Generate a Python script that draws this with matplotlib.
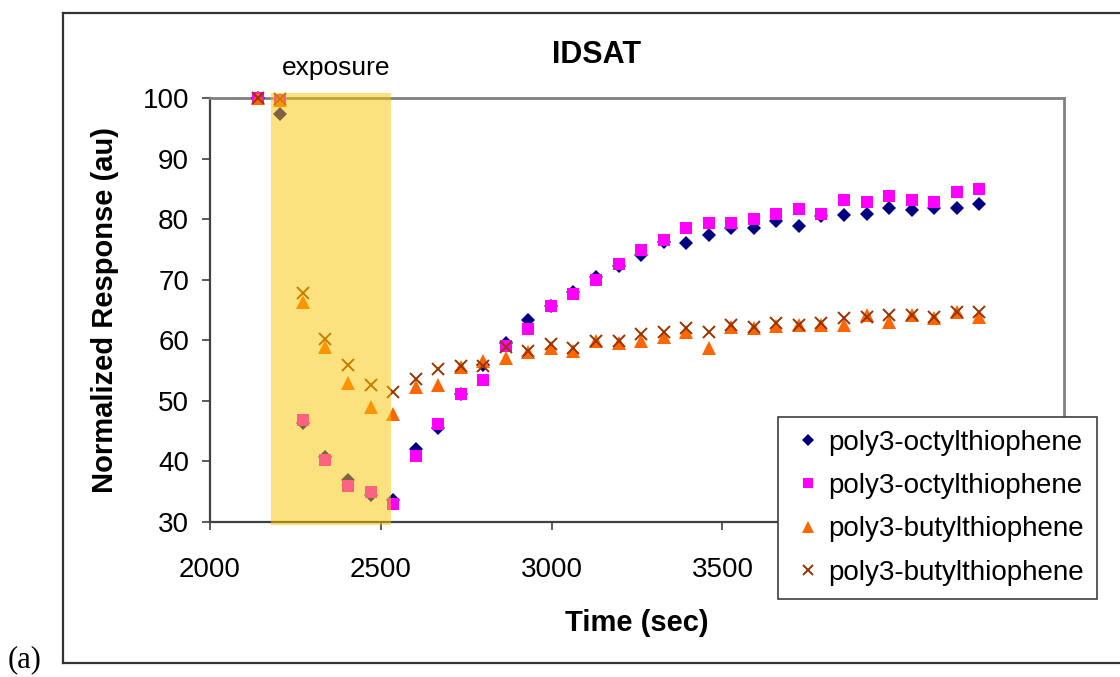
import matplotlib
matplotlib.use("Agg")
import matplotlib.pyplot as plt
from matplotlib.patches import Rectangle
from matplotlib.lines import Line2D

# ---- data ----
time_sec = [2140, 2206, 2272, 2338, 2404, 2470, 2536, 2602, 2668, 2734, 2800,
            2866, 2932, 2998, 3064, 3130, 3196, 3262, 3328, 3394, 3460, 3526,
            3592, 3658, 3724, 3790, 3856, 3922, 3988, 4054, 4120, 4186, 4252]

octyl_a = [100.0, 97.3, 46.3, 40.8, 37.0, 34.5, 33.7, 42.0, 45.5, 51.1, 55.9,
           59.5, 63.3, 65.6, 67.9, 70.5, 72.2, 74.1, 76.3, 76.1, 77.4, 78.6,
           78.6, 79.7, 78.8, 80.5, 80.7, 80.8, 81.8, 81.5, 81.8, 81.8, 82.5]

octyl_b = [100.0, 99.7, 46.8, 40.2, 35.9, 34.9, 33.0, 40.9, 46.2, 51.2, 53.4,
           59.1, 61.8, 65.7, 67.6, 70.0, 72.6, 74.9, 76.6, 78.5, 79.3, 79.3,
           80.0, 80.8, 81.6, 80.8, 83.2, 82.9, 83.9, 83.2, 82.9, 84.5, 84.9]

butyl_a = [100.0, 99.7, 66.4, 58.9, 52.9, 49.0, 47.9, 52.3, 52.6, 55.6, 56.5,
           57.0, 58.1, 58.7, 58.3, 59.8, 59.5, 59.9, 60.5, 61.4, 58.7, 62.2,
           62.1, 62.4, 62.5, 62.5, 62.5, 64.2, 63.1, 64.2, 63.6, 64.6, 63.9]

butyl_b = [100.0, 99.8, 67.8, 60.2, 55.9, 52.6, 51.4, 53.6, 55.3, 55.8, 55.8,
           58.9, 58.2, 59.4, 58.8, 59.9, 59.8, 61.1, 61.3, 62.0, 61.3, 62.5,
           62.2, 62.8, 62.5, 62.8, 63.6, 63.9, 64.2, 64.2, 63.9, 64.6, 64.6]

series_labels = ["poly3-octylthiophene", "poly3-octylthiophene",
                 "poly3-butylthiophene", "poly3-butylthiophene"]
exposure_start, exposure_end = 2178, 2529
x_ticks = [2000, 2500, 3000, 3500, 4000, 4500]
y_ticks = [30, 40, 50, 60, 70, 80, 90, 100]

plt.rcParams['font.family'] = ['Liberation Sans', 'DejaVu Sans']

W, H = 1120, 677
fig = plt.figure(figsize=(W / 100, H / 100), dpi=100)
ax = fig.add_axes([210 / W, 1 - 522 / H, (1064 - 210) / W, (522 - 98) / H])

ax.plot(time_sec, octyl_a, ls='none', marker='D', ms=7.0, color='#000080',
        mec='#000080', mew=0, label=series_labels[0], zorder=3, clip_on=False)
ax.plot(time_sec, octyl_b, ls='none', marker='s', ms=8.4, color='#FF00FF',
        mew=0, label=series_labels[1], zorder=3, clip_on=False)
ax.plot(time_sec, butyl_a, ls='none', marker='^', ms=9.5, color='#FF6600',
        mew=0, label=series_labels[2], zorder=3, clip_on=False)
ax.plot(time_sec, butyl_b, ls='none', marker='x', ms=9, color='#993300',
        mew=1.4, label=series_labels[3], zorder=3, clip_on=False)

ax.add_patch(Rectangle((exposure_start, 29.5), exposure_end - exposure_start,
                       100.8 - 29.5, facecolor=(0.98, 0.78, 0.0), alpha=0.5,
                       edgecolor='none', zorder=5, clip_on=False))

ax.set_xlim(2000, 4500)
ax.set_ylim(30, 100)
ax.set_xticks(x_ticks)
ax.set_yticks(y_ticks)
ax.tick_params(axis='both', direction='out', length=6, width=1.2,
               color='#404040', labelsize=20)
ax.tick_params(axis='y', pad=9)
ax.tick_params(axis='x', pad=19)

for s in ['top', 'right']:
    ax.spines[s].set_color('#808080')
    ax.spines[s].set_linewidth(2)
for s in ['left', 'bottom']:
    ax.spines[s].set_color('#404040')
    ax.spines[s].set_linewidth(1.6)

ax.set_xlabel('Time (sec)', fontsize=21, fontweight='bold', labelpad=19)
ax.set_ylabel('Normalized Response (au)', fontsize=21, fontweight='bold',
              labelpad=17)

fig.text(597 / W, 1 - 55 / H, 'IDSAT', fontsize=22, fontweight='bold',
         ha='center', va='center')
fig.text(336 / W, 1 - 68 / H, 'exposure', fontsize=19, ha='center',
         va='center')
fig.text(25 / W, 1 - 660 / H, '(a)', fontsize=22, ha='center', va='center',
         family=['Liberation Serif', 'DejaVu Serif'])

leg = fig.legend(loc='upper left', bbox_to_anchor=(778 / W, 1 - 417 / H),
                 fontsize=20, frameon=True, fancybox=False, framealpha=1,
                 edgecolor='#404040', markerscale=0.85, handlelength=1.25,
                 handletextpad=0.12, labelspacing=0.63, borderpad=0.45,
                 borderaxespad=0)
leg.get_frame().set_linewidth(1.2)
leg.set_zorder(10)

# outer frame (cut off on the right)
col = '#333333'
fig.add_artist(Line2D([63 / W, 1.0], [1 - 13 / H, 1 - 13 / H],
                      transform=fig.transFigure, color=col, lw=1.6))
fig.add_artist(Line2D([63 / W, 1.0], [1 - 663 / H, 1 - 663 / H],
                      transform=fig.transFigure, color=col, lw=1.6))
fig.add_artist(Line2D([63 / W, 63 / W], [1 - 13 / H, 1 - 663 / H],
                      transform=fig.transFigure, color=col, lw=1.6))

fig.savefig('out.png', dpi=100)
